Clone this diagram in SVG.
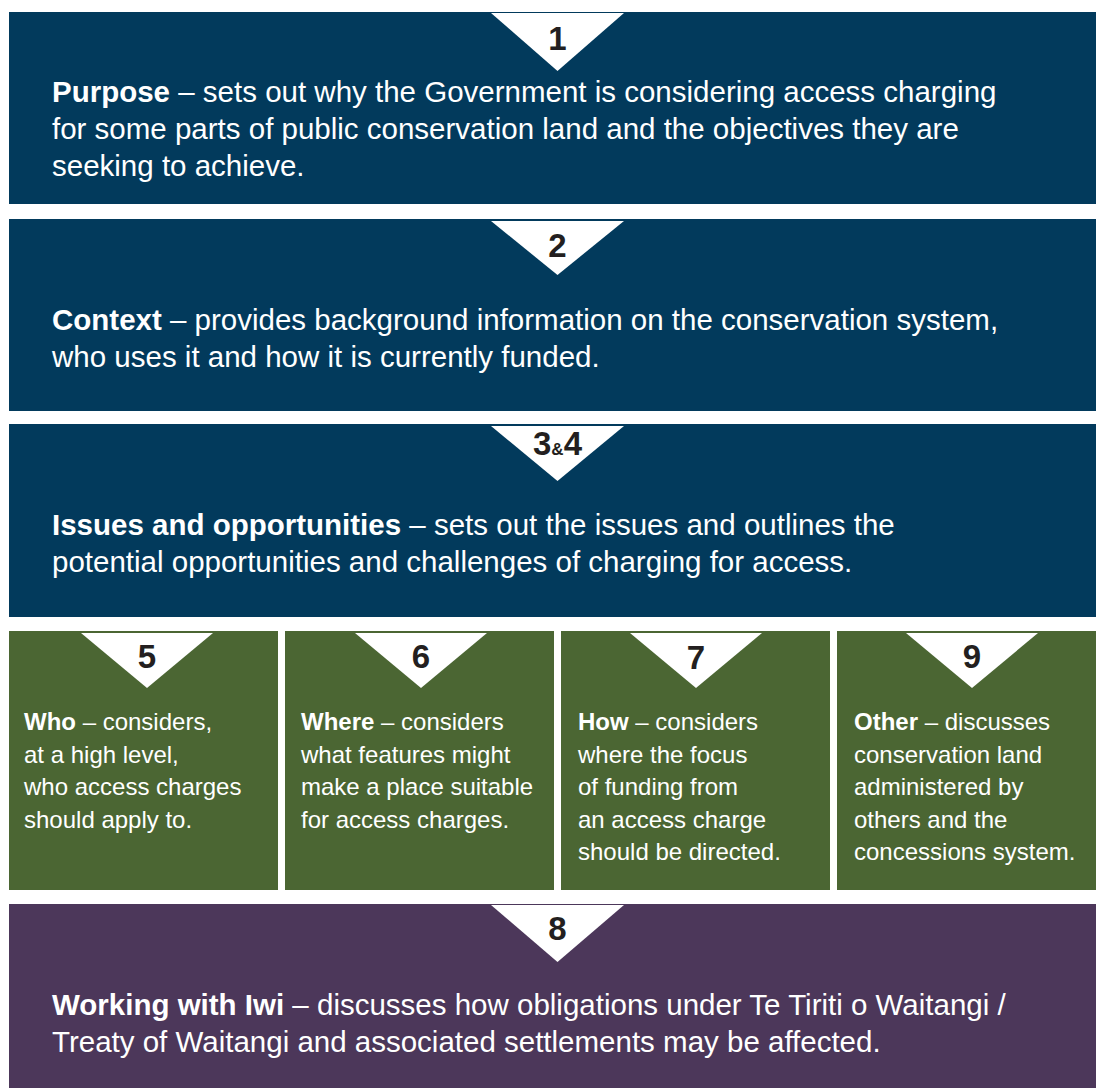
<svg xmlns="http://www.w3.org/2000/svg" width="1096" height="1088" viewBox="0 0 1096 1088">
  <style>
    .blue { fill: #023a5c; }
    .green { fill: #4b6633; }
    .purple { fill: #4c375a; }
    .tri { fill: #ffffff; }
    .num { font-family: "Liberation Sans", Arial, sans-serif; font-weight: bold; font-size: 33px; fill: #231f20; text-anchor: middle; }
    .big { font-family: "Liberation Sans", Arial, sans-serif; font-size: 29.5px; fill: #ffffff; }
    .small { font-family: "Liberation Sans", Arial, sans-serif; font-size: 24px; fill: #ffffff; }
    .b { font-weight: bold; }
  </style>
  <rect width="1096" height="1088" fill="#ffffff"/>

  <!-- 1: Purpose -->
  <g id="node-purpose">
    <rect class="blue" x="9" y="12" width="1087" height="192"/>
    <polygon class="tri" points="491,13 624,13 557.5,71"/>
    <text class="num" x="557.5" y="50">1</text>
    <text class="big" x="52" y="102"><tspan class="b">Purpose</tspan> – sets out why the Government is considering access charging</text>
    <text class="big" x="52" y="139">for some parts of public conservation land and the objectives they are</text>
    <text class="big" x="52" y="176">seeking to achieve.</text>
  </g>

  <!-- 2: Context -->
  <g id="node-context">
    <rect class="blue" x="9" y="219" width="1087" height="192"/>
    <polygon class="tri" points="491,221 624,221 557.5,275"/>
    <text class="num" x="557.5" y="257">2</text>
    <text class="big" x="52" y="330"><tspan class="b">Context</tspan> – provides background information on the conservation system,</text>
    <text class="big" x="52" y="367">who uses it and how it is currently funded.</text>
  </g>

  <!-- 3 & 4: Issues and opportunities -->
  <g id="node-issues">
    <rect class="blue" x="9" y="424" width="1087" height="193"/>
    <polygon class="tri" points="491,426 624,426 557.5,481"/>
    <text class="num" x="557.5" y="455" font-size="27"><tspan>3</tspan><tspan font-size="17">&amp;</tspan><tspan>4</tspan></text>
    <text class="big" x="52" y="535"><tspan class="b">Issues and opportunities</tspan> – sets out the issues and outlines the</text>
    <text class="big" x="52" y="572">potential opportunities and challenges of charging for access.</text>
  </g>

  <!-- 5: Who -->
  <g id="node-who">
    <rect class="green" x="9" y="631" width="269" height="259"/>
    <polygon class="tri" points="81,633 213,633 147,688"/>
    <text class="num" x="147" y="668">5</text>
    <text class="small" x="24" y="730"><tspan class="b">Who</tspan> – considers,</text>
    <text class="small" x="24" y="762.5">at a high level,</text>
    <text class="small" x="24" y="795">who access charges</text>
    <text class="small" x="24" y="827.5">should apply to.</text>
  </g>

  <!-- 6: Where -->
  <g id="node-where">
    <rect class="green" x="285" y="631" width="269" height="259"/>
    <polygon class="tri" points="355,633 487,633 421,688"/>
    <text class="num" x="421" y="668">6</text>
    <text class="small" x="301" y="730"><tspan class="b">Where</tspan> – considers</text>
    <text class="small" x="301" y="762.5">what features might</text>
    <text class="small" x="301" y="795">make a place suitable</text>
    <text class="small" x="301" y="827.5">for access charges.</text>
  </g>

  <!-- 7: How -->
  <g id="node-how">
    <rect class="green" x="561" y="631" width="269" height="259"/>
    <polygon class="tri" points="630,633 762,633 696,688"/>
    <text class="num" x="696" y="669">7</text>
    <text class="small" x="578" y="730"><tspan class="b">How</tspan> – considers</text>
    <text class="small" x="578" y="762.5">where the focus</text>
    <text class="small" x="578" y="795">of funding from</text>
    <text class="small" x="578" y="827.5">an access charge</text>
    <text class="small" x="578" y="860">should be directed.</text>
  </g>

  <!-- 9: Other -->
  <g id="node-other">
    <rect class="green" x="837" y="631" width="259" height="259"/>
    <polygon class="tri" points="906,633 1038,633 972,688"/>
    <text class="num" x="972" y="668">9</text>
    <text class="small" x="854" y="730"><tspan class="b">Other</tspan> – discusses</text>
    <text class="small" x="854" y="762.5">conservation land</text>
    <text class="small" x="854" y="795">administered by</text>
    <text class="small" x="854" y="827.5">others and the</text>
    <text class="small" x="854" y="860">concessions system.</text>
  </g>

  <!-- 8: Working with Iwi -->
  <g id="node-iwi">
    <rect class="purple" x="9" y="904" width="1087" height="184"/>
    <polygon class="tri" points="491,905 624,905 557.5,962"/>
    <text class="num" x="557.5" y="940">8</text>
    <text class="big" x="52" y="1015"><tspan class="b">Working with Iwi</tspan> – discusses how obligations under Te Tiriti o Waitangi /</text>
    <text class="big" x="52" y="1052">Treaty of Waitangi and associated settlements may be affected.</text>
  </g>

  <!-- no connectors between the panels -->
  <g id="connectors"/>
</svg>
